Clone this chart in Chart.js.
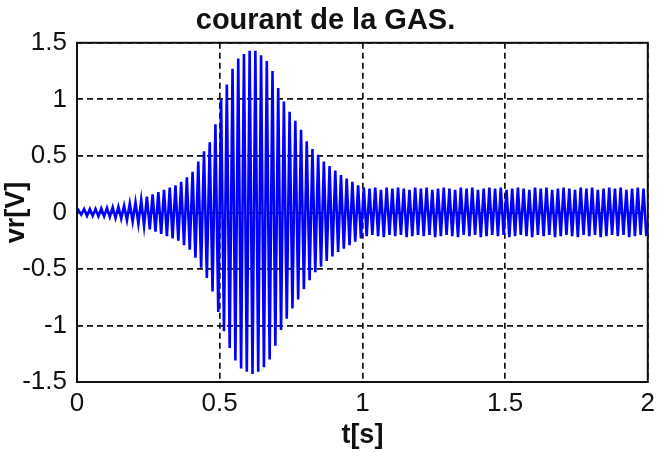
<!DOCTYPE html>
<html lang="fr">
<head>
    <meta charset="UTF-8">
    <title>courant de la GAS.</title>
    <style>
        body {
            margin: 0;
            background-color: #FFFFFF;
        }
        #gasChart {
            display: block;
        }
    </style>
</head>
<body>
    <canvas id="gasChart" width="661" height="452"></canvas>

    <script src="https://cdn.jsdelivr.net/npm/chart.js"></script>
    <script>
        // Signal at 50 Hz: one positive and one negative peak per cycle (0.02 s)
        const cyclePeriod = 0.02;
        const vrMax = [
            0.02, 0.03, 0.03, 0.03, 0.035, 0.04, 0.045, 0.05, 0.06, 0.08,
            0.09, 0.11, 0.14, 0.16, 0.18, 0.20, 0.22, 0.24, 0.27, 0.31,
            0.36, 0.45, 0.54, 0.62, 0.78, 1.00, 1.13, 1.27, 1.36, 1.40,
            1.43, 1.43, 1.39, 1.34, 1.25, 1.10, 0.98, 0.89, 0.81, 0.73,
            0.63, 0.56, 0.51, 0.45, 0.41, 0.37, 0.33, 0.30, 0.27, 0.24,
            0.22, 0.21, 0.22, 0.20, 0.22, 0.21, 0.22, 0.21, 0.20, 0.22,
            0.21, 0.22, 0.20, 0.21, 0.22, 0.21, 0.20, 0.22, 0.21, 0.22,
            0.20, 0.21, 0.22, 0.21, 0.22, 0.20, 0.21, 0.22, 0.21, 0.20,
            0.22, 0.21, 0.22, 0.20, 0.21, 0.22, 0.21, 0.20, 0.22, 0.21,
            0.22, 0.20, 0.21, 0.22, 0.21, 0.22, 0.20, 0.21, 0.22, 0.21
        ];
        const vrMin = [
            -0.02, -0.03, -0.03, -0.035, -0.035, -0.04, -0.05, -0.055, -0.07, -0.08,
            -0.10, -0.12, -0.15, -0.17, -0.19, -0.21, -0.23, -0.25, -0.29, -0.33,
            -0.40, -0.49, -0.58, -0.70, -0.88, -1.05, -1.20, -1.31, -1.38, -1.41,
            -1.43, -1.41, -1.37, -1.30, -1.18, -1.04, -0.94, -0.85, -0.77, -0.68,
            -0.60, -0.53, -0.48, -0.43, -0.39, -0.35, -0.32, -0.29, -0.26, -0.23,
            -0.21, -0.20, -0.21, -0.22, -0.20, -0.21, -0.20, -0.22, -0.21, -0.20,
            -0.21, -0.20, -0.22, -0.21, -0.20, -0.21, -0.22, -0.20, -0.21, -0.20,
            -0.22, -0.21, -0.20, -0.21, -0.20, -0.22, -0.21, -0.20, -0.21, -0.22,
            -0.20, -0.21, -0.20, -0.22, -0.21, -0.20, -0.21, -0.22, -0.20, -0.21,
            -0.20, -0.22, -0.21, -0.20, -0.21, -0.20, -0.22, -0.21, -0.20, -0.21
        ];
        const xTicks = [0, 0.5, 1, 1.5, 2];
        const yTicks = [-1.5, -1, -0.5, 0, 0.5, 1, 1.5];

        // Interleave the peaks into one time series
        const points = [{x: 0, y: 0}];
        vrMax.forEach((v, k) => {
            points.push({x: k * cyclePeriod + cyclePeriod / 4, y: v});
            points.push({x: k * cyclePeriod + 3 * cyclePeriod / 4, y: vrMin[k]});
        });

        const fontFamily = '"Liberation Sans", Arial, sans-serif';
        const fmt = v => String(+v.toFixed(1));

        // Solid black box round the plot area, MATLAB style
        const framePlugin = {
            id: 'frame',
            afterDraw(chart) {
                const {ctx, chartArea: a} = chart;
                ctx.save();
                ctx.strokeStyle = '#111';
                ctx.lineWidth = 2;
                ctx.strokeRect(a.left, a.top, a.right - a.left, a.bottom - a.top);
                ctx.restore();
            }
        };

        const gridOpts = {
            color: '#111',
            lineWidth: 1.7,
            borderDash: [6, 4],
            drawTicks: false
        };

        new Chart(document.getElementById('gasChart'), {
            type: 'scatter',
            data: {
                datasets: [{
                    data: points,
                    showLine: true,
                    borderColor: '#0000FF',
                    borderWidth: 2.6,
                    pointRadius: 0,
                    tension: 0
                }]
            },
            options: {
                responsive: false,
                animation: false,
                events: [],
                layout: {padding: {left: 0, right: 10, top: 0, bottom: 0}},
                plugins: {
                    legend: {display: false},
                    tooltip: {enabled: false},
                    title: {
                        display: true,
                        text: 'courant de la GAS.',
                        color: '#111',
                        font: {family: fontFamily, size: 29, weight: 'bold'},
                        padding: {top: 4, bottom: 4}
                    }
                },
                scales: {
                    x: {
                        type: 'linear',
                        min: 0,
                        max: 2,
                        z: 1,
                        afterBuildTicks: s => { s.ticks = xTicks.map(v => ({value: v})); },
                        afterFit: s => { s.height = 70; },
                        grid: gridOpts,
                        border: {display: false, dash: [6, 4]},
                        ticks: {
                            color: '#111',
                            padding: 6,
                            maxRotation: 0,
                            font: {family: fontFamily, size: 26},
                            callback: fmt
                        },
                        title: {
                            display: true,
                            text: 't[s]',
                            color: '#111',
                            padding: 0,
                            font: {family: fontFamily, size: 27, weight: 'bold'}
                        }
                    },
                    y: {
                        min: -1.5,
                        max: 1.5,
                        z: 1,
                        afterBuildTicks: s => { s.ticks = yTicks.map(v => ({value: v})); },
                        afterFit: s => { s.width = 77; },
                        grid: gridOpts,
                        border: {display: false, dash: [6, 4]},
                        ticks: {
                            color: '#111',
                            padding: 10,
                            font: {family: fontFamily, size: 26},
                            callback: fmt
                        },
                        title: {
                            display: true,
                            text: 'vr[V]',
                            color: '#111',
                            padding: 0,
                            font: {family: fontFamily, size: 27, weight: 'bold'}
                        }
                    }
                }
            },
            plugins: [framePlugin]
        });
    </script>
</body>
</html>
